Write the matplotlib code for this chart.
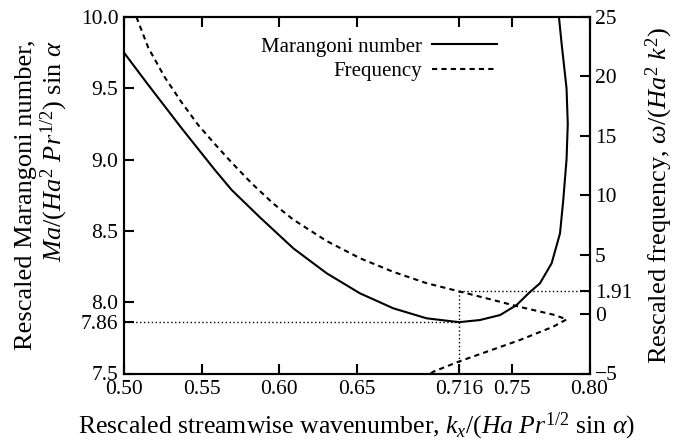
import matplotlib
matplotlib.use('Agg')
import matplotlib.pyplot as plt

plt.rcParams.update({
    'font.family': 'Liberation Serif',
    'font.size': 15,
    'mathtext.fontset': 'custom',
    'mathtext.rm': 'Liberation Serif',
    'mathtext.it': 'Liberation Serif:italic',
    'mathtext.bf': 'Liberation Serif:bold',
    'axes.linewidth': 1.5,
})

# Neutral curve: rescaled Marangoni number against streamwise wavenumber
KX_MA = [0.500, 0.5157, 0.5372, 0.5586, 0.5694, 0.5876, 0.6091, 0.6306,
         0.6521, 0.6736, 0.695, 0.716, 0.7294, 0.7424, 0.753, 0.7612,
         0.7681, 0.7756, 0.781, 0.7831, 0.7852, 0.786, 0.7852, 0.782, 0.7803]
MA = [9.75, 9.523, 9.219, 8.927, 8.787, 8.595, 8.378, 8.203,
      8.062, 7.957, 7.887, 7.86, 7.875, 7.91, 7.98, 8.067,
      8.133, 8.273, 8.483, 8.717, 9.0, 9.25, 9.5, 9.816, 10.0]

# Frequency along the same neutral curve
KX_FREQ = [0.508, 0.5157, 0.5264, 0.5372, 0.5479, 0.5586, 0.5694, 0.5823,
           0.5962, 0.6091, 0.6306, 0.6521, 0.6736, 0.695, 0.716, 0.7359,
           0.7552, 0.7767, 0.7853, 0.7766, 0.7552, 0.7337, 0.7155, 0.6993,
           0.6975]
FREQ = [25.0, 22.4, 19.9, 17.8, 15.9, 14.3, 12.75, 11.0,
        9.3, 7.95, 6.15, 4.7, 3.55, 2.6, 1.91, 1.25,
        0.6, -0.05, -0.44, -1.06, -2.18, -3.17, -4.01, -4.85,
        -5.0]

# Critical point
KX_C = 0.716
MA_C = 7.86
FREQ_C = 1.91

X_TICKS = [0.50, 0.55, 0.60, 0.65, KX_C, 0.75, 0.80]
X_TICK_LABELS = ['0.50', '0.55', '0.60', '0.65', '0.716', '0.75', '0.80']
MA_TICKS = [7.5, MA_C, 8.0, 8.5, 9.0, 9.5, 10.0]
MA_TICK_LABELS = ['7.5', '7.86', '8.0', '8.5', '9.0', '9.5', '10.0']
FREQ_TICKS = [-5, 0, FREQ_C, 5, 10, 15, 20, 25]
FREQ_TICK_LABELS = ['\u22125', '0', '1.91', '5', '10', '15', '20', '25']

DOTTED = (0, (1, 1.8))


def main():
    fig = plt.figure(figsize=(6.77, 4.43), dpi=100)
    ax = fig.add_axes([124 / 677, 1 - 373.5 / 443, 465.5 / 677, 356.5 / 443])
    ax2 = ax.twinx()

    ax.set_xlim(0.50, 0.80)
    ax.set_ylim(7.5, 10.0)
    ax2.set_ylim(-5, 25)

    h_ma, = ax.plot(KX_MA, MA, color='black', lw=1.5)
    h_fr, = ax2.plot(KX_FREQ, FREQ, color='black', lw=1.5,
                     linestyle=(0, (2.5, 2)))

    # guides through the critical point
    ax.plot([0.50, KX_C], [MA_C, MA_C], color='black', lw=1.0, linestyle=DOTTED)
    ax2.plot([KX_C, KX_C], [-5, FREQ_C], color='black', lw=1.0, linestyle=DOTTED)
    ax2.plot([KX_C, 0.80], [FREQ_C, FREQ_C], color='black', lw=1.0, linestyle=DOTTED)

    ax.set_xticks(X_TICKS)
    ax.set_xticklabels(X_TICK_LABELS)
    ax.set_yticks(MA_TICKS)
    ax.set_yticklabels(MA_TICK_LABELS)
    ax2.set_yticks(FREQ_TICKS)
    ax2.set_yticklabels(FREQ_TICK_LABELS)

    ax.tick_params(axis='both', direction='in', length=7, width=1.5, pad=4,
                   labelsize=15.5)
    ax.tick_params(axis='x', top=True, pad=5)
    ax.tick_params(axis='y', right=False)
    ax2.tick_params(axis='y', direction='in', length=7, width=1.5, pad=4,
                    labelsize=15.5)

    ax.set_xlabel(r'Rescaled streamwise wavenumber, $k_x/(Ha\ Pr^{1/2}$ sin $\alpha)$',
                  fontsize=18.5, labelpad=8)
    ax.set_ylabel('Rescaled Marangoni number,\n'
                  r'$Ma/(Ha^2\ Pr^{1/2})$ sin $\alpha$',
                  fontsize=19, labelpad=8, linespacing=1.05,
                  multialignment='right')
    ax2.set_ylabel(r'Rescaled frequency, $\omega/(Ha^2\ k^2)$',
                   fontsize=19, labelpad=8)

    ax2.legend([h_ma, h_fr], ['Marangoni number', 'Frequency'],
               loc='upper right', bbox_to_anchor=(0.801, 0.944),
               frameon=False, markerfirst=False, borderpad=0,
               borderaxespad=0, handlelength=3.1, handletextpad=0.5,
               labelspacing=0.25, fontsize=15)

    fig.savefig('out.png', dpi=100, facecolor='white')
    plt.close(fig)


if __name__ == '__main__':
    main()
